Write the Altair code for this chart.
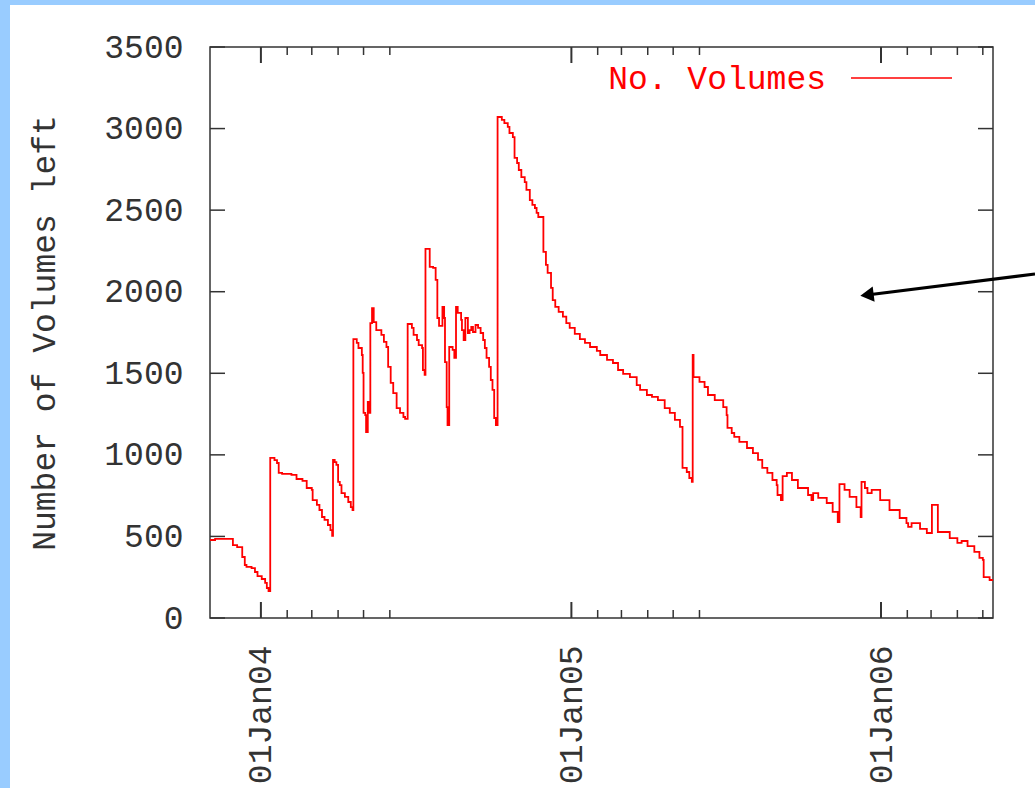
import altair as alt
import pandas as pd

# ---- data (days since 01 Jan 2004, number of volumes left) ----
days = [-60, -54, -33, -28, -22, -19, -17, -11, -7, -4, 1, 5, 7, 9,
        11, 16, 19, 21, 25, 36, 42, 49, 54, 60, 61, 66, 69, 72, 75, 79, 82, 84,
        85, 87, 89, 91, 93, 95, 99, 103, 106, 108,
        109, 113, 115, 119, 120, 121, 123, 124, 126, 127, 129, 131, 133, 136, 142, 145,
        148, 150, 153, 156, 160, 164, 168, 170,
        173, 178, 180, 184, 186, 190, 191, 193,
        194, 199, 203, 206, 208, 210, 214, 216, 217, 219, 220, 222, 226, 228,
        230, 232, 236, 237, 239, 241, 244, 246, 248, 250, 253, 256, 259, 262, 264,
        266, 269, 271, 273, 275, 277,
        279, 284, 287, 291, 293, 297, 299, 302, 304, 307, 311, 313, 317, 320, 323,
        325, 327, 333, 336, 338, 342, 344, 347, 351, 356, 360, 364, 370, 376, 382,
        388, 396, 400, 408, 415, 421, 427, 435, 443, 447, 455, 461, 468, 476, 482,
        488, 494, 497, 502, 505, 508,
        509, 510, 517, 523, 527, 535, 545, 549, 550, 555, 558, 564, 573, 580, 586,
        591, 597, 603, 608, 609, 613,
        615, 620, 626, 633, 645, 649, 651, 657, 667, 674, 680,
        682, 688, 694, 702, 707,
        708, 712, 715, 720, 730, 741, 753, 761, 763, 767, 777, 785,
        791, 798, 812, 821, 826, 833, 841, 847, 851, 852, 859, 863]
volumes = [478, 485, 447, 435, 374, 325, 313, 306, 282, 257, 239, 215, 184, 165,
           981, 968, 950, 889, 883, 877, 852, 840, 797, 785, 723, 693, 662, 619, 601, 570, 539, 503,
           969, 956, 938, 834, 815, 766, 742, 711, 680, 662,
           1710, 1686, 1655, 1612, 1502, 1257, 1244, 1140, 1324, 1257, 1808, 1900, 1814, 1765, 1735, 1692,
           1661, 1539, 1441, 1379, 1287, 1257, 1232, 1220,
           1802, 1778, 1735, 1704, 1673, 1655, 1520, 1490,
           2262, 2152, 2146, 2072, 1839, 1790, 1907, 1839, 1569, 1293, 1183, 1661, 1643, 1594,
           1907, 1870, 1827, 1765, 1704, 1839, 1747, 1765, 1784, 1753, 1796, 1778, 1747, 1704, 1655,
           1594, 1539, 1459, 1398, 1226, 1183,
           3071, 3053, 3034, 3010, 2973, 2948, 2820, 2789, 2746, 2703, 2672, 2624, 2562, 2532, 2513,
           2483, 2458, 2244, 2164, 2115, 2023, 1949, 1907, 1876, 1847, 1808, 1778, 1741, 1710, 1686,
           1661, 1637, 1612, 1582, 1563, 1520, 1496, 1477, 1428, 1398, 1367, 1355, 1336, 1287, 1257,
           1214, 1171, 920, 895, 858, 834,
           1612, 1477, 1447, 1416, 1367, 1336, 1293, 1244, 1165, 1134, 1110, 1079, 1042, 1011, 969,
           920, 889, 846, 815, 754, 723,
           870, 889, 846, 797, 754, 723, 766, 736, 705, 650, 588,
           821, 785, 742, 680, 619,
           834, 797, 766, 785, 723, 662, 613, 582, 558, 582, 546, 521,
           693, 527, 490, 460, 472, 441, 405, 368, 356, 251, 233, 227]

y_ticks = [0, 500, 1000, 1500, 2000, 2500, 3000, 3500]
major_dates = ["2004-01-01", "2005-01-01", "2006-01-01"]
minor_dates = ["2004-02-01", "2004-03-01", "2004-04-01", "2004-05-01", "2004-06-01",
               "2005-02-01", "2005-03-01", "2005-04-01", "2005-05-01", "2005-06-01",
               "2006-02-01", "2006-03-01", "2006-04-01", "2006-05-01"]
series_name = ["No. Volumes"]
y_title = "Number of Volumes left"

FONT = "Liberation Mono"
FS = 33
AX = "#333333"
W, H = 783, 571

base = pd.Timestamp("2004-01-01")
df = pd.DataFrame({"date": base + pd.to_timedelta(days, unit="D"), "volumes": volumes})
df_major = pd.DataFrame({"date": pd.to_datetime(major_dates)})
df_minor = pd.DataFrame({"date": pd.to_datetime(minor_dates)})
df_yt = pd.DataFrame({"volumes": y_ticks})
df_leg = pd.DataFrame({"label": series_name})
one = pd.DataFrame({"k": [0]})

xscale = alt.Scale(domain=[alt.DateTime(year=2003, month=11, date=2),
                           alt.DateTime(year=2006, month=5, date=13)])
yscale = alt.Scale(domain=[0, 3500], nice=False, zero=False)

xaxis = alt.Axis(values=[alt.DateTime(year=y, month=1, date=1) for y in (2004, 2005, 2006)],
                 format="%d%b%y", labelAngle=270, labelAlign="right", labelBaseline="middle",
                 labelPadding=27, ticks=False, tickSize=0, domain=False, grid=False, title=None,
                 labelFont=FONT, labelFontSize=FS, labelColor=AX, labelFlush=False,
                 labelOverlap=False, labelBound=False)
yaxis = alt.Axis(values=y_ticks, format="d", labelPadding=27, ticks=False, tickSize=0,
                 domain=False, grid=False,
                 labelFont=FONT, labelFontSize=FS, labelColor=AX, labelFlush=False,
                 labelOverlap=False, labelBound=False,
                 title=y_title, titleFont=FONT, titleFontSize=FS, titleFontWeight="normal",
                 titleColor=AX, titleAngle=270, titleAlign="center", titleBaseline="middle",
                 titleX=-166, titleY=H / 2)

X = alt.X("date:T", scale=xscale, axis=xaxis)
Y = alt.Y("volumes:Q", scale=yscale, axis=yaxis)

line = alt.Chart(df).mark_line(interpolate="step-after", color="#FF0000", strokeWidth=1.8,
                               clip=True).encode(x=X, y=Y)

tick_style = dict(color=AX, strokeWidth=1.5)
yt_left = alt.Chart(df_yt).mark_rule(**tick_style).encode(
    y=Y, x=alt.value(0), x2=alt.value(15))
yt_right = alt.Chart(df_yt).mark_rule(**tick_style).encode(
    y=Y, x=alt.value(W - 15), x2=alt.value(W))
xt_major_b = alt.Chart(df_major).mark_rule(color=AX, strokeWidth=2).encode(
    x=X, y=alt.value(H), y2=alt.value(H - 16))
xt_major_t = alt.Chart(df_major).mark_rule(color=AX, strokeWidth=2).encode(
    x=X, y=alt.value(0), y2=alt.value(16))
xt_minor_b = alt.Chart(df_minor).mark_rule(**tick_style).encode(
    x=X, y=alt.value(H), y2=alt.value(H - 8))
xt_minor_t = alt.Chart(df_minor).mark_rule(**tick_style).encode(
    x=X, y=alt.value(0), y2=alt.value(8))

leg_text = alt.Chart(df_leg).mark_text(align="right", baseline="middle", font=FONT, fontSize=FS,
                                       color="#FF0000").encode(
    text="label:N", x=alt.value(616), y=alt.value(32))
leg_line = alt.Chart(one).mark_rule(color="#FF0000", strokeWidth=1.6).encode(
    x=alt.value(641), x2=alt.value(742), y=alt.value(31))

arrow_line = alt.Chart(one).mark_rule(color="black", strokeWidth=3).encode(
    x=alt.value(825), x2=alt.value(657), y=alt.value(227), y2=alt.value(248))
arrow_head = alt.Chart(one).mark_point(shape="triangle-left", filled=True, size=240,
                                       angle=352.8, color="black", opacity=1).encode(
    x=alt.value(657), y=alt.value(248))

band_left = alt.Chart(one).mark_rect(color="#99CCFF").encode(
    x=alt.value(-210), x2=alt.value(-200), y=alt.value(-47), y2=alt.value(741))
band_top = alt.Chart(one).mark_rect(color="#99CCFF").encode(
    x=alt.value(-210), x2=alt.value(825), y=alt.value(-47), y2=alt.value(-42))

chart = alt.layer(
    line, yt_left, yt_right, xt_major_b, xt_major_t, xt_minor_b, xt_minor_t,
    leg_text, leg_line, arrow_line, arrow_head, band_left, band_top,
).properties(
    width=W, height=H,
    autosize=alt.AutoSizeParams(type="none"),
    padding={"left": 210, "top": 47, "right": 42, "bottom": 170},
).configure(
    background="white",
).configure_view(
    stroke=AX, strokeWidth=1.5,
)

chart.save("out.html", embed_options={"renderer": "svg", "actions": False})
